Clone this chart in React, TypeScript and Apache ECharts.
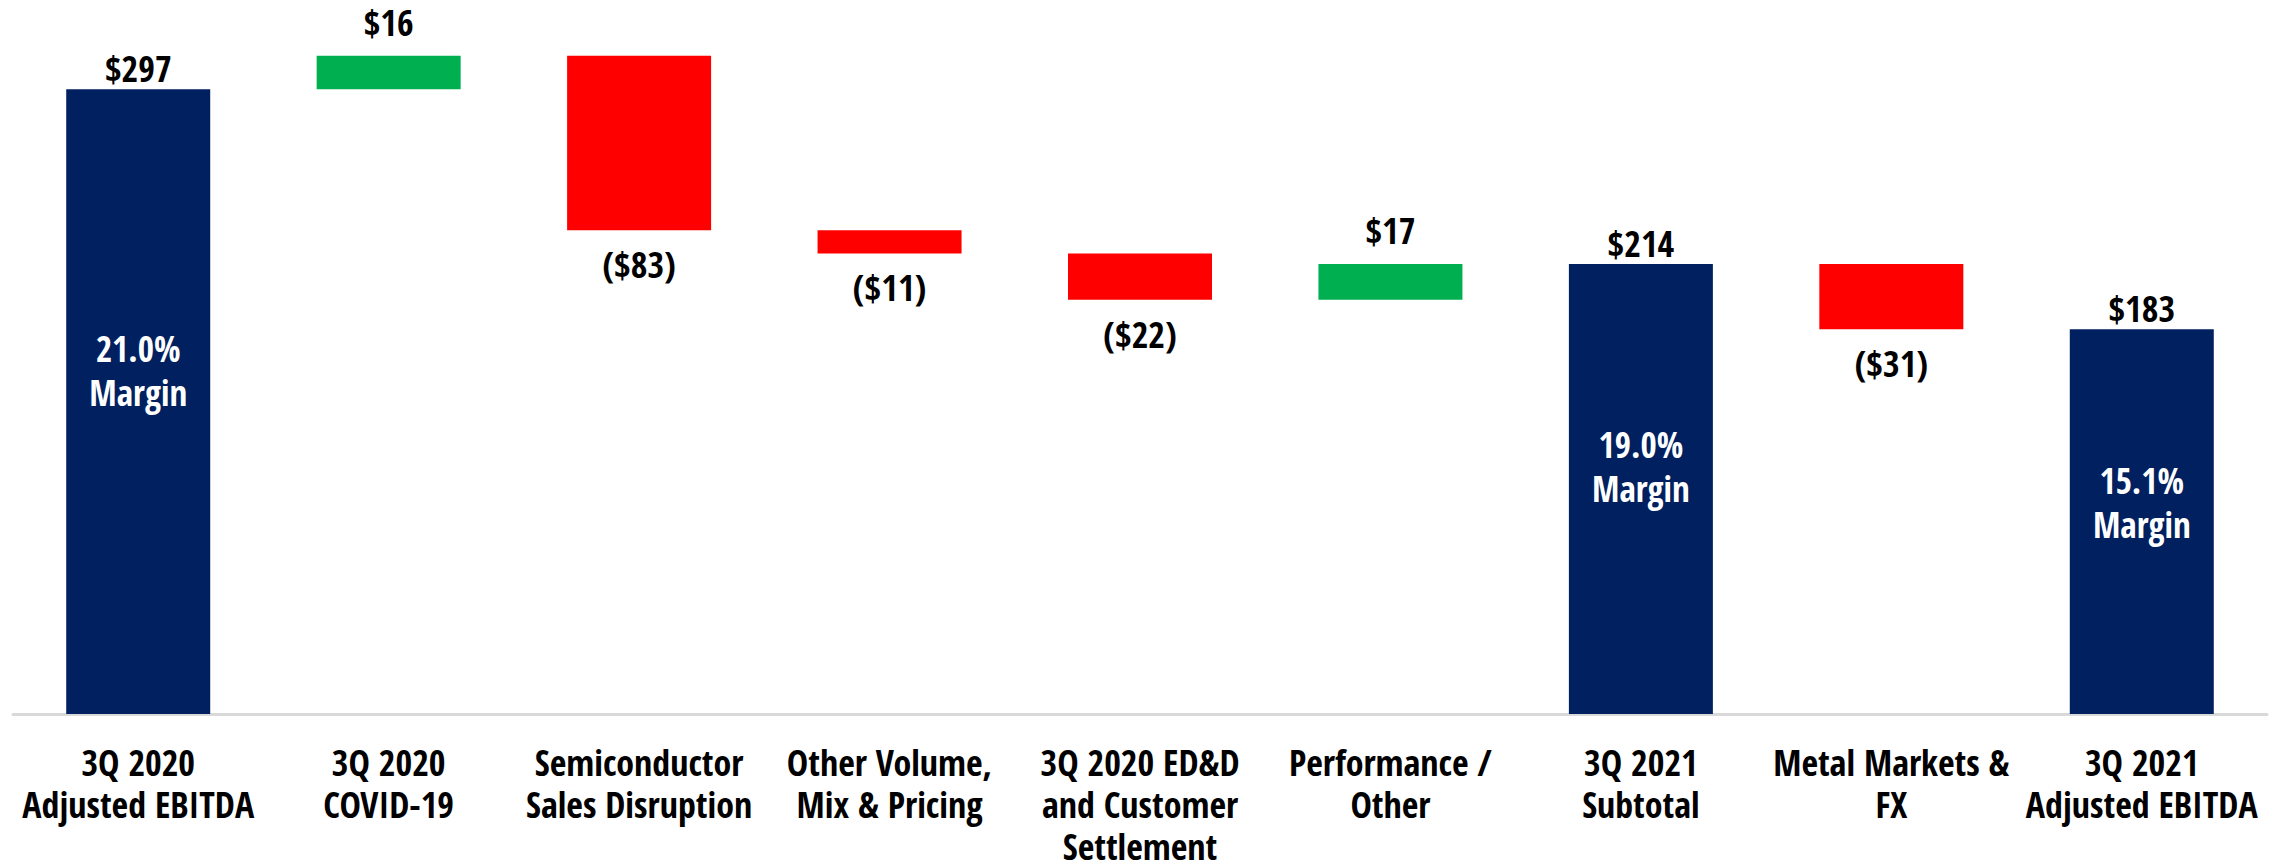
import React, { useEffect, useRef } from "react";
import * as echarts from "echarts";

const categories = [
  "3Q 2020\nAdjusted EBITDA",
  "3Q 2020\nCOVID-19",
  "Semiconductor\nSales Disruption",
  "Other Volume,\nMix & Pricing",
  "3Q 2020 ED&D\nand Customer\nSettlement",
  "Performance /\nOther",
  "3Q 2021\nSubtotal",
  "Metal Markets &\nFX",
  "3Q 2021\nAdjusted EBITDA",
];
const changes = [297, 16, -83, -11, -22, 17, 214, -31, 183];
const kinds = ["total", "delta", "delta", "delta", "delta", "delta", "total", "delta", "total"];
const margins = ["21.0%", "", "", "", "", "", "19.0%", "", "15.1%"];

const NAVY = "#002060";
const GREEN = "#00B050";
const RED = "#FF0000";
const FONT = "'Open Sans Condensed', 'Roboto Condensed', 'Liberation Sans Narrow', 'Arial Narrow', sans-serif";

export default function App() {
  const ref = useRef<HTMLDivElement>(null);
  useEffect(() => {
    document.body.style.margin = "0";
    if (!ref.current) return;
    const chart = echarts.init(ref.current, null, { renderer: "svg" });

    const base: number[] = [];
    const heights: any[] = [];
    let running = 0;
    changes.forEach((v, i) => {
      if (kinds[i] === "total") {
        base.push(0);
        running = v;
        heights.push({ value: v, itemStyle: { color: NAVY }, label: { position: "top", distance: 3 } });
      } else if (v >= 0) {
        base.push(running);
        running += v;
        heights.push({ value: v, itemStyle: { color: GREEN }, label: { position: "top", distance: 16 } });
      } else {
        running += v;
        base.push(running);
        heights.push({ value: -v, itemStyle: { color: RED }, label: { position: "bottom", distance: 17 } });
      }
    });
    const marginData = changes.map((v, i) => (kinds[i] === "total" ? v : "-"));

    chart.setOption({
      animation: false,
      grid: { left: 13, right: 25, top: 41, bottom: 151 },
      xAxis: {
        type: "category",
        data: categories,
        axisTick: { show: false },
        axisLine: { lineStyle: { color: "#D9D9D9", width: 3 } },
        axisLabel: { interval: 0, margin: 27, color: "#000", fontFamily: FONT, fontWeight: "bold", fontSize: 36, lineHeight: 42 },
      },
      yAxis: { type: "value", min: 0, max: 320, show: false, splitLine: { show: false } },
      series: [
        { type: "bar", stack: "w", barWidth: 144, barGap: "-100%", itemStyle: { color: "transparent" }, data: base, silent: true },
        {
          type: "bar", stack: "w", barWidth: 144, barGap: "-100%", data: heights,
          label: {
            show: true, color: "#000", fontFamily: FONT, fontWeight: "bold", fontSize: 36, lineHeight: 35,
            formatter: (p: any) => { const v = changes[p.dataIndex]; return v < 0 ? `($${-v})` : `$${v}`; },
          },
        },
        {
          type: "bar", barWidth: 144, barGap: "-100%", itemStyle: { color: "transparent" }, data: marginData,
          label: {
            show: true, position: ["50%", "45%"], align: "center", verticalAlign: "middle", color: "#fff",
            fontFamily: FONT, fontWeight: "bold", fontSize: 35, lineHeight: 44,
            formatter: (p: any) => `${margins[p.dataIndex]}\nMargin`,
          },
        },
      ],
    });
    return () => chart.dispose();
  }, []);
  return <div ref={ref} style={{ width: 2292, height: 867 }} />;
}
